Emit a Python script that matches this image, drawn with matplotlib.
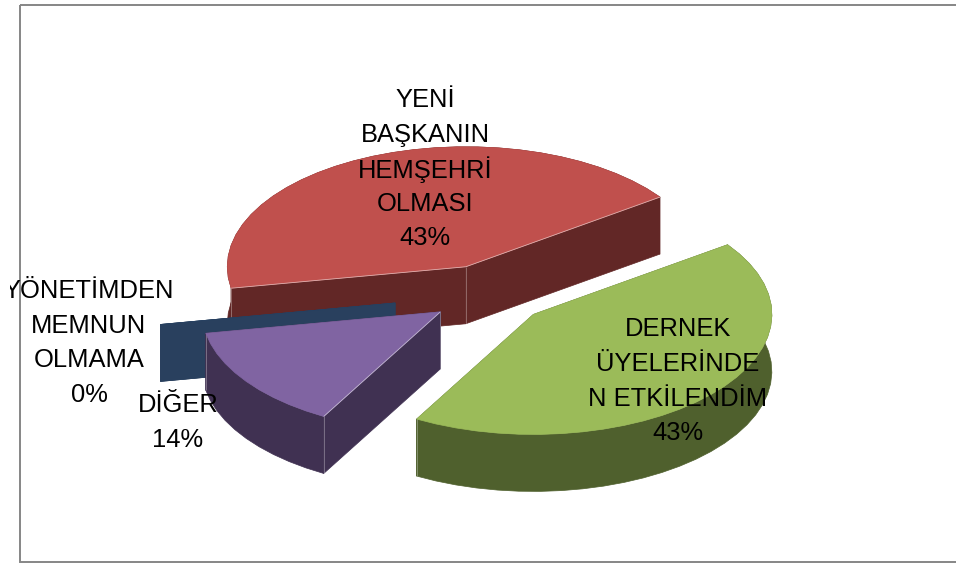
#!/usr/bin/env python3
"""Exploded 3D-style pie drawn from polygons, matplotlib has no real 3D pie."""
import numpy as np
import matplotlib
matplotlib.use("Agg")
import matplotlib.pyplot as plt
from matplotlib.patches import Polygon, Rectangle
from matplotlib.path import Path

# data, in drawing order (counter-clockwise from the start angle)
labels = ["YENİ\nBAŞKANIN\nHEMŞEHRİ\nOLMASI", "YÖNETİMDEN\nMEMNUN\nOLMAMA",
          "DİĞER", "DERNEK\nÜYELERİNDE\nN ETKİLENDİM"]
percents = [43, 0, 14, 43]

# styles
top_colors = ["#C0504D", "#264061", "#8064A2", "#9BBB59"]
side_colors = ["#622726", "#29405E", "#403152", "#4F602D"]
explode = [0.25, 0.40, 0.25, 0.25]
label_pos = [(425, 100), (89, 291), (178, 405), (678, 329.5)]

START = 35.5
CX, CY = 489.0, 294.4
A, B = 238.5, 120.0
DEPTH = 57.0
LINE_H = 34.6

plt.rcParams["font.family"] = ["Liberation Sans", "DejaVu Sans"]

fig = plt.figure(figsize=(9.56, 5.63), dpi=100)
ax = fig.add_axes([0, 0, 1, 1])
ax.set_xlim(0, 956)
ax.set_ylim(563, 0)
ax.set_axis_off()

# chart frame, right side runs off the picture
ax.add_patch(Rectangle((20, 4.5), 1000, 557.5, fill=False, ec="#868686", lw=1.4))


def seam(p, q, alpha):
    # a patch, not a Line2D, so it stays in drawing order with the faces
    ax.add_patch(Polygon([p, q], closed=False, fill=False, ec="#ffffff", lw=0.6, alpha=alpha))


def draw_slice(start, span, off, top_c, side_c):
    mid = np.radians(start + span / 2)
    x0 = CX + off * A * np.cos(mid)
    y0 = CY - off * B * np.sin(mid)
    # coarse steps, the original rim is visibly jagged
    n = max(int(span / 5), 1) + 1
    t = np.radians(np.linspace(start, start + span, n))
    rim = np.column_stack([x0 + A * np.cos(t), y0 - B * np.sin(t)])
    apex = np.array([x0, y0])
    down = np.array([0, DEPTH])
    top = np.vstack([apex, rim])

    ax.add_patch(Polygon(np.vstack([rim, (rim + down)[::-1]]), fc=side_c, ec=side_c, lw=0.5))
    for p in (rim[0], rim[-1]):
        quad = [apex, p, p + down, apex + down]
        ax.add_patch(Polygon(quad, fc=side_c, ec=side_c, lw=0.5))

    if span == 0:
        ax.add_patch(Polygon(top, fc=top_c, ec=top_c, lw=0.5))
        return

    # pale vertical seams, the top face covers the hidden ones
    for p in (apex, rim[0], rim[-1]):
        seam(p, p + down, 0.35)
    ax.add_patch(Polygon(top, fc=top_c, ec=top_c, lw=0.5))

    # pale line on a cut edge, only where its side face can be seen
    outline = Path(top)
    for p in (rim[0], rim[-1]):
        below = (apex + p) / 2 + [0, 3]
        if not outline.contains_point(below):
            seam(apex, p, 0.55)


angle = START
for pct, off, top_c, side_c in zip(percents, explode, top_colors, side_colors):
    span = pct / 100 * 360
    draw_slice(angle, span, off, top_c, side_c)
    angle += span

# labels: left edge of the picture clips the long one
clip = Rectangle((10, 0), 946, 563, transform=ax.transData)
for text, pct, (x, y) in zip(labels, percents, label_pos):
    for i, line in enumerate(text.split("\n") + [f"{pct}%"]):
        t = ax.text(x, y + i * LINE_H, line, ha="center", va="center",
                    fontsize=18.4, color="black", clip_on=True)
        t.set_clip_path(clip)

fig.savefig("out.png", dpi=100, facecolor="white")
